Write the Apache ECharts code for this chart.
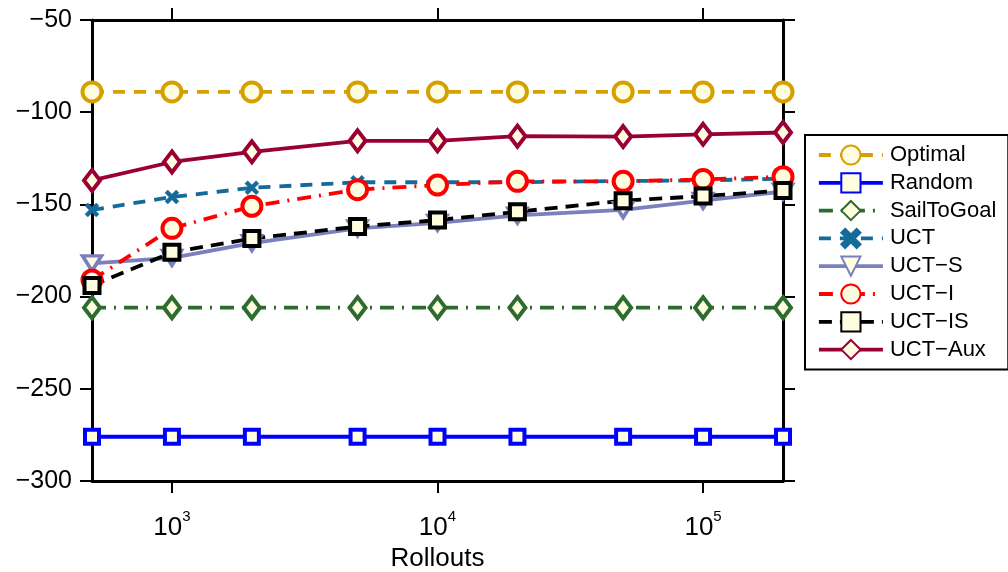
<!DOCTYPE html>
<html>
<head>
<meta charset="utf-8">
<script src="https://cdn.jsdelivr.net/npm/echarts@6/dist/echarts.min.js"></script>
<style>
html,body{margin:0;padding:0;background:#fff;overflow:hidden;}
#chart{width:1008px;height:572px;}
</style>
</head>
<body>
<div id="chart"></div>
<script>
const rollouts = [500, 1000, 2000, 5000, 10000, 20000, 50000, 100000, 200000];
const xTickValues = [1000, 10000, 100000];
const yTickInterval = 50;
const optimal = [-89, -89, -89, -89, -89, -89, -89, -89, -89];
const random = [-276, -276, -276, -276, -276, -276, -276, -276, -276];
const sailToGoal = [-206, -206, -206, -206, -206, -206, -206, -206, -206];
const uct = [-153, -146, -141, -138, -138, -138, -137.3, -137, -136];
const uctS = [-182, -179, -171, -163, -160, -156, -153, -148, -143];
const uctI = [-191, -163, -151, -142, -139.5, -137.5, -137.5, -136.5, -135];
const uctIS = [-194, -176, -168.5, -162, -158.5, -154, -148, -145.5, -142.5];
const uctAux = [-137, -127, -121.5, -115.5, -115.5, -113, -113.2, -112, -111];

const FONT = '"Liberation Sans", Arial, sans-serif';
const FILL = '#fffde0';
const xMarker = 'path://M2,0 L5,3 L8,0 L10,2 L7,5 L10,8 L8,10 L5,7 L2,10 L0,8 L3,5 L0,2 Z';

function pts(arr) { return rollouts.map((x, i) => [x, arr[i]]); }

function mk(name, arr, color, dash, symbol, size, extra) {
  return Object.assign({
    name: name,
    type: 'line',
    data: pts(arr),
    clip: false,
    symbol: symbol,
    symbolSize: size,
    showAllSymbol: true,
    lineStyle: { color: color, width: 3.8, type: dash },
    itemStyle: { color: FILL, borderColor: color, borderWidth: 4 },
    emphasis: { disabled: true },
    animation: false
  }, extra || {});
}

const series = [
  mk('Optimal', optimal, '#d6a100', [12, 9], 'circle', 19),
  mk('Random', random, '#0000ff', 'solid', 'rect', 14),
  mk('SailToGoal', sailToGoal, '#2e6b2e', [14, 8, 2, 8], 'diamond', [16, 21]),
  mk('UCT', uct, '#146b9b', [12, 9], xMarker, 14, { itemStyle: { color: '#146b9b', borderColor: '#146b9b', borderWidth: 0.5 } }),
  mk('UCT\u2212S', uctS, '#7a80bd', 'solid', 'triangle', [19, 15], { symbolRotate: 180, itemStyle: { color: FILL, borderColor: '#7a80bd', borderWidth: 3.5 } }),
  mk('UCT\u2212I', uctI, '#ff0000', [14, 8, 2, 8], 'circle', 19),
  mk('UCT\u2212IS', uctIS, '#000000', [13, 8], 'rect', 15),
  mk('UCT\u2212Aux', uctAux, '#990033', 'solid', 'diamond', [16, 21])
];

const chart = echarts.init(document.getElementById('chart'), null, { renderer: 'canvas', width: 1008, height: 572 });
const axisLine = { show: true, onZero: false, lineStyle: { color: '#000', width: 3 } };
const axisTick = { show: true, inside: false, length: 12, lineStyle: { color: '#000', width: 2 } };

chart.setOption({
  backgroundColor: '#fff',
  animation: false,
  grid: { left: 92, top: 20, right: 225, bottom: 91, containLabel: false, outerBoundsMode: 'none' },
  legend: {
    orient: 'vertical',
    left: 805,
    top: 135,
    padding: [9, 12, 9, 12],
    itemWidth: 64,
    itemHeight: 24,
    itemGap: 5.8,
    borderColor: '#000',
    borderWidth: 2,
    backgroundColor: '#fff',
    lineStyle: { width: 3.8 },
    textStyle: { fontFamily: FONT, fontSize: 22, color: '#000', padding: [0, 0, 0, 2] },
    selectedMode: false,
    data: series.map(s => s.name)
  },
  xAxis: [
    {
      type: 'log', logBase: 10, min: 500, max: 200000,
      position: 'bottom',
      axisLine: axisLine,
      axisTick: Object.assign({ customValues: xTickValues }, axisTick),
      minorTick: { show: false },
      splitLine: { show: false },
      axisLabel: {
        customValues: xTickValues,
        margin: 28,
        fontFamily: FONT,
        formatter: function (v) {
          const e = Math.round(Math.log10(v));
          return '{b|10}{s|' + e + '}';
        },
        rich: {
          b: { fontFamily: FONT, fontSize: 26, color: '#000', padding: [6, 0, 0, 0] },
          s: { fontFamily: FONT, fontSize: 15, color: '#000', verticalAlign: 'top' }
        }
      },
      name: 'Rollouts',
      nameLocation: 'middle',
      nameGap: 65,
      nameTextStyle: { fontFamily: FONT, fontSize: 26, color: '#000' }
    },
    {
      type: 'log', logBase: 10, min: 500, max: 200000,
      position: 'top',
      axisLine: axisLine,
      axisTick: Object.assign({ customValues: xTickValues }, axisTick),
      minorTick: { show: false },
      splitLine: { show: false },
      axisLabel: { show: false }
    }
  ],
  yAxis: [
    {
      type: 'value', min: -300, max: -50, interval: yTickInterval,
      position: 'left',
      axisLine: axisLine,
      axisTick: axisTick,
      splitLine: { show: false },
      axisLabel: {
        margin: 20,
        fontFamily: FONT, fontSize: 25, color: '#000',
        formatter: v => String(v).replace('-', '\u2212')
      }
    },
    {
      type: 'value', min: -300, max: -50, interval: yTickInterval,
      position: 'right',
      axisLine: axisLine,
      axisTick: axisTick,
      splitLine: { show: false },
      axisLabel: { show: false }
    }
  ],
  series: series
});
</script>
</body>
</html>
